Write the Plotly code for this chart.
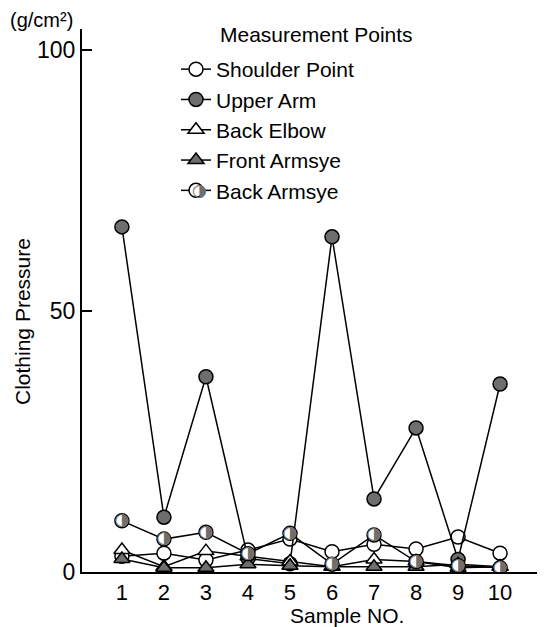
import plotly.graph_objects as go

samples = [1, 2, 3, 4, 5, 6, 7, 8, 9, 10]
shoulder_point = [3.0, 3.6, 2.3, 4.2, 6.3, 3.9, 5.3, 4.4, 6.7, 3.6]
upper_arm = [66.1, 10.5, 37.4, 2.6, 1.6, 64.2, 14.0, 27.6, 2.4, 36.0]
back_elbow = [4.2, 1.0, 4.0, 3.0, 2.0, 1.0, 2.4, 2.0, 0.8, 1.0]
front_armsye = [2.5, 0.8, 0.8, 1.5, 1.2, 1.0, 1.0, 1.0, 1.5, 1.0]
back_armsye = [9.8, 6.3, 7.6, 3.5, 7.4, 1.5, 7.1, 2.0, 1.2, 0.8]

series_names = ["Shoulder Point", "Upper Arm", "Back Elbow", "Front Armsye", "Back Armsye"]
y_ticks = [0, 50, 100]

FONT = "Liberation Sans, Arial, sans-serif"
GRAY = "#6e6e6e"

styles = [
    dict(symbol="circle", color="white", size=14),
    dict(symbol="circle", color=GRAY, size=14),
    dict(symbol="triangle-up", color="white", size=14),
    dict(symbol="triangle-up", color=GRAY, size=14),
    dict(symbol="circle", color="white", size=14),
]
data = [shoulder_point, upper_arm, back_elbow, front_armsye, back_armsye]

fig = go.Figure()
for i, (name, vals, st) in enumerate(zip(series_names, data, styles)):
    fig.add_trace(go.Scatter(
        x=samples, y=vals, name=name, mode="lines+markers",
        legendgroup=f"g{i}",
        line=dict(color="black", width=1.5),
        marker=dict(symbol=st["symbol"], color=st["color"], size=st["size"],
                    line=dict(color="black", width=1.5)),
    ))

# half-filled overlay for Back Armsye
fig.add_trace(go.Scatter(
    x=samples, y=back_armsye, mode="text", text=["◑"] * len(samples),
    textposition="middle center",
    textfont=dict(family="DejaVu Sans", size=17, color=GRAY),
    showlegend=False, hoverinfo="skip",
))

# page body has an 8px margin: figure is sized/offset to compensate
fig.update_layout(
    width=537, height=619,
    margin=dict(l=74, r=5, t=21, b=55),
    paper_bgcolor="white", plot_bgcolor="white",
    font=dict(family=FONT, color="black"),
    showlegend=True,
    legend=dict(
        x=(176 - 82) / 458, y=(572 - 49) / 543, xanchor="left", yanchor="top",
        font=dict(family=FONT, size=21, color="black"),
        bgcolor="rgba(0,0,0,0)", tracegroupgap=0, itemwidth=30,
    ),
    xaxis=dict(
        range=[0.05, 10.95], tickvals=samples, ticktext=[str(s) for s in samples],
        showline=True, linecolor="black", linewidth=2, ticks="",
        showgrid=False, zeroline=False, tickfont=dict(size=22, family=FONT),
    ),
    yaxis=dict(
        range=[0, 104], tickvals=y_ticks, ticktext=[str(t) for t in y_ticks],
        showline=True, linecolor="black", linewidth=2, ticks="inside",
        ticklen=10, tickwidth=1.5, tickcolor="black",
        showgrid=False, zeroline=False, tickfont=dict(size=23, family=FONT),
    ),
    annotations=[
        dict(text="Measurement Points", xref="paper", yref="paper",
             x=(218 - 82) / 458, y=(572 - 35) / 543, xanchor="left", yanchor="middle",
             showarrow=False, font=dict(size=21, family=FONT)),
        dict(text="Sample NO.", xref="paper", yref="paper",
             x=(347 - 82) / 458, y=(572 - 615) / 543, xanchor="center", yanchor="middle",
             showarrow=False, font=dict(size=21, family=FONT)),
        dict(text="Clothing Pressure", xref="paper", yref="paper",
             x=(22 - 82) / 458, y=(572 - 322) / 543, xanchor="center", yanchor="middle",
             textangle=-90, showarrow=False, font=dict(size=21, family=FONT)),
        dict(text="(g/cm²)", xref="paper", yref="paper",
             x=(41 - 82) / 458, y=(572 - 20) / 543, xanchor="center", yanchor="middle",
             showarrow=False, font=dict(size=20, family=FONT)),
        dict(text="◑", xref="paper", yref="paper",
             x=(199 - 82) / 458, y=(572 - 190) / 543, xanchor="center", yanchor="middle",
             showarrow=False, font=dict(size=17, family="DejaVu Sans", color=GRAY)),
    ],
)

fig.write_html("out.html")
